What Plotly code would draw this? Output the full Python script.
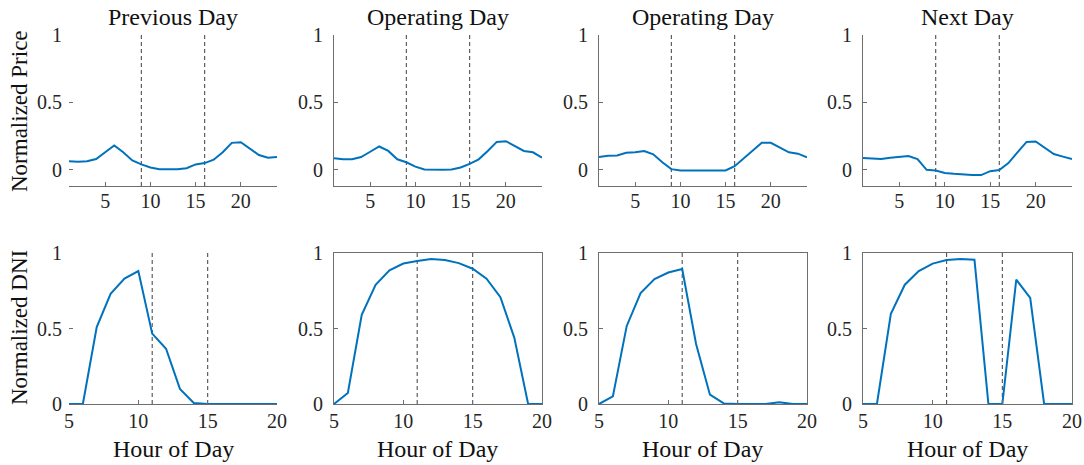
import plotly.graph_objects as go

# ---------------- data ----------------
hours_price = list(range(1, 25))
hours_dni = list(range(5, 21))

titles = ["Previous Day", "Operating Day", "Operating Day", "Next Day"]

price_prev = [0.064, 0.06, 0.064, 0.08, 0.13, 0.18, 0.13, 0.07, 0.04, 0.017, 0.005, 0.005,
              0.005, 0.012, 0.04, 0.05, 0.075, 0.13, 0.20, 0.205, 0.16, 0.11, 0.09, 0.096]
price_op1 = [0.085, 0.078, 0.078, 0.095, 0.134, 0.173, 0.14, 0.078, 0.056, 0.024, 0.002, 0.0,
             0.0, 0.002, 0.017, 0.044, 0.078, 0.14, 0.207, 0.212, 0.176, 0.14, 0.13, 0.09]
price_op2 = [0.095, 0.105, 0.107, 0.127, 0.13, 0.14, 0.115, 0.056, 0.005, -0.005, -0.005, -0.005,
             -0.005, -0.005, -0.005, 0.027, 0.085, 0.146, 0.20, 0.20, 0.166, 0.13, 0.12, 0.093]
price_next = [0.088, 0.085, 0.08, 0.09, 0.098, 0.102, 0.08, 0.0, -0.005, -0.024, -0.03, -0.037,
              -0.039, -0.039, -0.01, -0.002, 0.05, 0.13, 0.207, 0.21, 0.163, 0.117, 0.098, 0.08]

dni_prev = [0.0, 0.0, 0.51, 0.73, 0.83, 0.88, 0.466, 0.366, 0.10, 0.007, 0.0, 0.0, 0.0, 0.0, 0.0, 0.0]
dni_op1 = [0.0, 0.073, 0.59, 0.79, 0.885, 0.93, 0.947, 0.96, 0.953, 0.933, 0.896, 0.83, 0.707, 0.44, 0.0, 0.0]
dni_op2 = [0.0, 0.05, 0.517, 0.734, 0.827, 0.871, 0.894, 0.397, 0.062, 0.004, 0.0, 0.0, 0.0, 0.011, 0.0, 0.0]
dni_next = [0.0, 0.0, 0.597, 0.79, 0.88, 0.93, 0.953, 0.96, 0.955, 0.0, 0.0, 0.823, 0.703, 0.0, 0.0, 0.0]

price_vlines = [9, 16]
dni_vlines = [11, 15]

price_ticks = [5, 10, 15, 20]
dni_ticks = [5, 10, 15, 20]
y_ticks = [0, 0.5, 1]
y_ticklabels = ["0", "0.5", "1"]

# ---------------- style ----------------
BLUE = "#0072BD"
AXC = "#6e6e6e"
TXT = "#262626"
FONT = "Liberation Serif"
W, H = 1084, 465

xdom_px = [(69, 277), (334, 542), (599, 807), (863, 1072)]
top_px = (35, 186)
bot_px = (253, 404)

def xd(p):
    return [p[0] / W, p[1] / W]

def yd(p):
    return [1 - p[1] / H, 1 - p[0] / H]

def ax(prefix, n):
    return prefix if n == 1 else f"{prefix}{n}"

fig = go.Figure()
layout = dict(
    width=W, height=H, margin=dict(l=0, r=0, t=0, b=0, autoexpand=False),
    paper_bgcolor="white", plot_bgcolor="white", showlegend=False,
    font=dict(family=FONT, color=TXT, size=20),
)

prices = [price_prev, price_op1, price_op2, price_next]
dnis = [dni_prev, dni_op1, dni_op2, dni_next]
shapes = []
annotations = []
tickfont = dict(size=20, family=FONT, color=TXT)
vline_style = dict(color="#505050", width=1.1, dash="4px,3px")

for i in range(4):
    # top row: price
    n = i + 1
    xa, ya = ax("x", n), ax("y", n)
    fig.add_trace(go.Scatter(x=hours_price, y=prices[i], mode="lines",
                             line=dict(color=BLUE, width=2), xaxis=xa, yaxis=ya))
    layout[f"xaxis{n}"] = dict(domain=xd(xdom_px[i]), anchor=ya, range=[1, 24],
                               tickvals=price_ticks, ticks="inside", ticklen=4, tickcolor=AXC,
                               showline=True, linecolor=AXC, linewidth=1, showgrid=False,
                               zeroline=False, tickfont=tickfont, ticklabelstandoff=-3,
                               automargin=False)
    layout[f"yaxis{n}"] = dict(domain=yd(top_px), anchor=xa, range=[-0.12, 1],
                               tickvals=y_ticks, ticktext=y_ticklabels, ticks="inside", ticklen=4,
                               tickcolor=AXC, showline=(i != 0), linecolor=AXC, linewidth=1,
                               showgrid=False, zeroline=False, tickfont=tickfont,
                               ticklabelstandoff=6, automargin=False)
    for v in price_vlines:
        shapes.append(dict(type="line", xref=xa, yref=f"{ya} domain", x0=v, x1=v, y0=0, y1=1,
                           line=vline_style, layer="below"))
    annotations.append(dict(text=titles[i], xref="paper", yref="paper",
                            x=sum(xd(xdom_px[i])) / 2, y=1 - 17 / H, showarrow=False,
                            xanchor="center", yanchor="middle",
                            font=dict(size=24, family=FONT, color="#111111")))

    # bottom row: DNI
    m = i + 5
    xb, yb = ax("x", m), ax("y", m)
    fig.add_trace(go.Scatter(x=hours_dni, y=dnis[i], mode="lines",
                             line=dict(color=BLUE, width=2), xaxis=xb, yaxis=yb))
    mirror = (i != 0)
    layout[f"xaxis{m}"] = dict(domain=xd(xdom_px[i]), anchor=yb, range=[5, 20],
                               tickvals=dni_ticks, ticks="inside", ticklen=4, tickcolor=AXC,
                               showline=True, linecolor=AXC, linewidth=1, mirror=mirror,
                               showgrid=False, zeroline=False, tickfont=tickfont,
                               ticklabelstandoff=-1, automargin=False)
    layout[f"yaxis{m}"] = dict(domain=yd(bot_px), anchor=xb, range=[0, 1],
                               tickvals=y_ticks, ticktext=y_ticklabels, ticks="inside", ticklen=4,
                               tickcolor=AXC, showline=mirror, linecolor=AXC, linewidth=1,
                               mirror=mirror, showgrid=False, zeroline=False, tickfont=tickfont,
                               ticklabelstandoff=6, automargin=False)
    for v in dni_vlines:
        shapes.append(dict(type="line", xref=xb, yref=f"{yb} domain", x0=v, x1=v, y0=0, y1=1,
                           line=vline_style, layer="below"))
    annotations.append(dict(text="Hour of Day", xref="paper", yref="paper",
                            x=sum(xd(xdom_px[i])) / 2, y=1 - 449 / H, showarrow=False,
                            xanchor="center", yanchor="middle",
                            font=dict(size=24, family=FONT, color="#111111")))

annotations.append(dict(text="Normalized Price", xref="paper", yref="paper", x=19 / W,
                        y=1 - 111 / H, showarrow=False, textangle=-90, xanchor="center",
                        yanchor="middle", font=dict(size=23, family=FONT, color="#111111")))
annotations.append(dict(text="Normalized DNI", xref="paper", yref="paper", x=19 / W,
                        y=1 - 328 / H, showarrow=False, textangle=-90, xanchor="center",
                        yanchor="middle", font=dict(size=23, family=FONT, color="#111111")))

layout["shapes"] = shapes
layout["annotations"] = annotations
fig.update_layout(**layout)
fig.write_html("out.html", config={"displayModeBar": False},
               post_script="document.body.style.margin='0';document.body.style.overflow='hidden';")
